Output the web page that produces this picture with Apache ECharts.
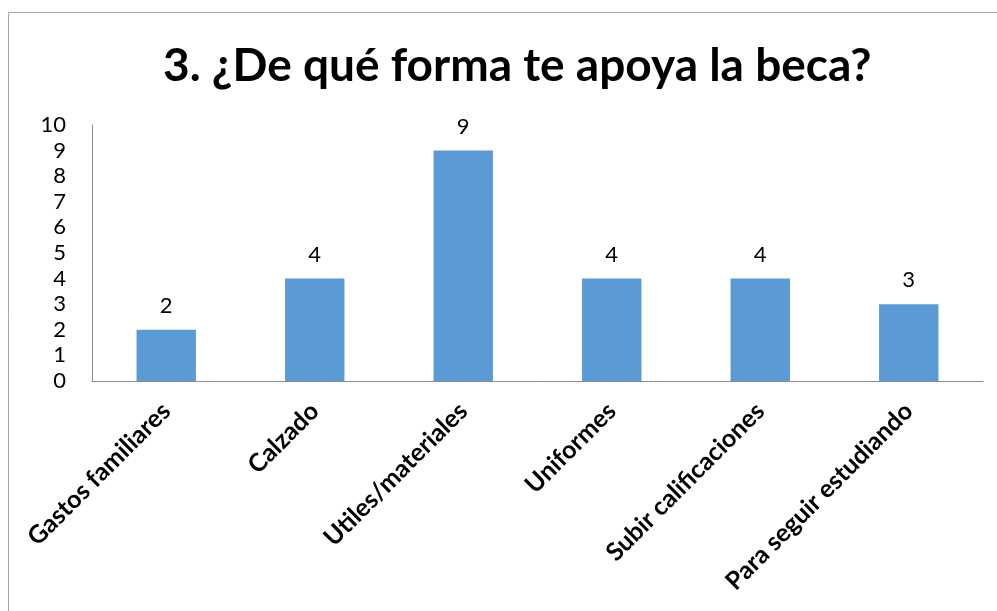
<!DOCTYPE html>
<html>
<head>
<meta charset="utf-8">
<script src="https://cdn.jsdelivr.net/npm/echarts@6/dist/echarts.min.js"></script>
<style>
  html, body { margin: 0; padding: 0; background: #fff; }
  #chart { width: 997px; height: 611px; }
</style>
</head>
<body>
<div id="chart"></div>
<script>
// datos de la gráfica
var categorias = ['Gastos familiares', 'Calzado', 'Utiles/materiales', 'Uniformes', 'Subir calificaciones', 'Para seguir estudiando'];
var valores = [2, 4, 9, 4, 4, 3];
var tituloTexto = '3. ¿De qué forma te apoya la beca?';

var fuente = 'Lato';
var myChart = echarts.init(document.getElementById('chart'));

myChart.setOption({
    animation: false,
    title: {
        text: tituloTexto,
        left: 158,
        top: 38,
        textStyle: {
            fontFamily: fuente,
            fontWeight: 'bold',
            fontSize: 46,
            color: '#000'
        }
    },
    // marco del área de la gráfica
    graphic: [{
        type: 'rect',
        shape: { x: 8.5, y: 12.5, width: 1100, height: 700 },
        style: { fill: 'none', stroke: '#a6a6a6', lineWidth: 1 },
        silent: true
    }],
    grid: {
        left: 92,
        right: 14,
        top: 125,
        bottom: 230
    },
    xAxis: {
        type: 'category',
        data: categorias,
        axisLine: { lineStyle: { color: '#8c8c8c', width: 1 } },
        axisTick: { show: false },
        axisLabel: {
            rotate: 45,
            interval: 0,
            margin: 26,
            fontFamily: fuente,
            fontWeight: 'bold',
            fontSize: 25,
            color: '#000'
        }
    },
    yAxis: {
        type: 'value',
        min: 0,
        max: 10,
        interval: 1,
        axisLine: { show: true, lineStyle: { color: '#8c8c8c', width: 1 } },
        axisTick: { show: false },
        splitLine: { show: false },
        axisLabel: {
            margin: 26,
            fontFamily: fuente,
            fontSize: 22,
            color: '#000'
        }
    },
    series: [{
        type: 'bar',
        data: valores,
        barWidth: '40%',
        itemStyle: { color: '#5b9bd5' },
        label: {
            show: true,
            position: 'top',
            distance: 13,
            fontFamily: fuente,
            fontSize: 22,
            color: '#000'
        }
    }]
});
</script>
</body>
</html>
